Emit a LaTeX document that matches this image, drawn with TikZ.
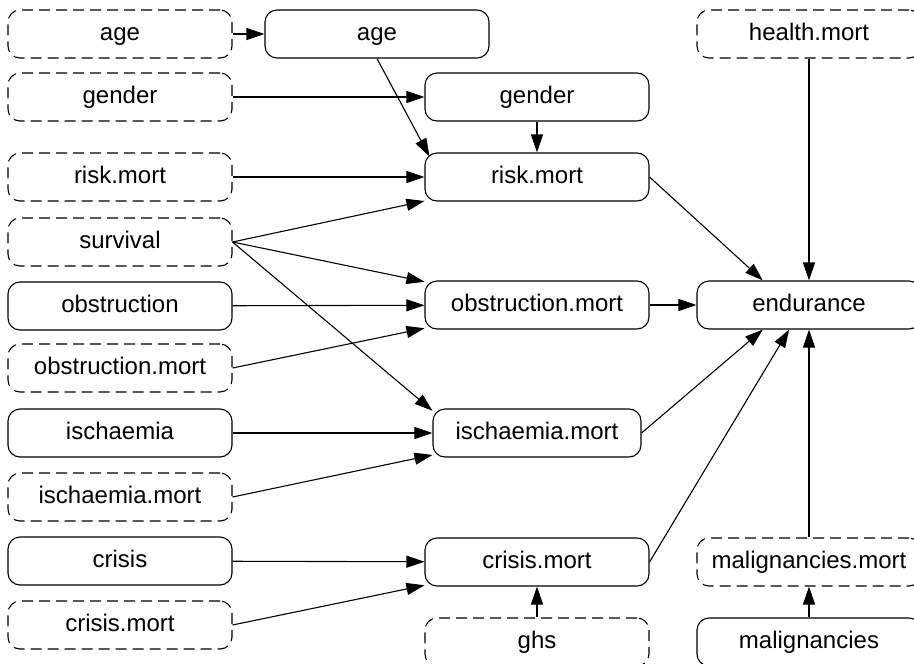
\documentclass[tikz,border=0pt]{standalone}
\usepackage{fontspec}
\setmainfont{Liberation Sans}
\usetikzlibrary{arrows.meta,positioning,calc}
\tikzset{
  var/.style={draw,rounded corners=12pt,line width=1.1pt,minimum width=224pt,
    minimum height=48pt,inner sep=2pt,text height=17pt,text depth=5pt,
    font=\fontsize{24}{28}\selectfont},
  ext/.style={var,dash pattern=on 11pt off 6pt},
  dep/.style={-{Triangle[length=18pt,width=12pt]},line width=1.1pt},
}
\begin{document}
\begin{tikzpicture}[x=1pt,y=-1pt]
  \useasboundingbox (0,0) rectangle (914,664);
  \node[ext] (agel) at (120,34) {age};
  \node[ext] (genl) at (120,97) {gender};
  \node[ext] (riskl) at (120,177) {risk.mort};
  \node[ext] (surv) at (120,242) {survival};
  \node[var] (obsl) at (120,306) {obstruction};
  \node[ext] (obsml) at (120,368) {obstruction.mort};
  \node[var] (isl) at (120,433) {ischaemia};
  \node[ext] (isml) at (120,497) {ischaemia.mort};
  \node[var] (crl) at (120,561) {crisis};
  \node[ext] (crml) at (120,625) {crisis.mort};

  \node[var] (agem) at (377,34) {age};
  \node[var] (genm) at (537,97) {gender};
  \node[var] (riskm) at (537,177) {risk.mort};
  \node[var] (obsm) at (537,305) {obstruction.mort};
  \node[var,minimum width=208pt] (ism) at (537,433) {ischaemia.mort};
  \node[var] (crm) at (537,562) {crisis.mort};
  \node[ext] (ghs) at (537,642) {ghs};

  \node[ext] (health) at (809,34) {health.mort};
  \node[var] (endu) at (809,305) {endurance};
  \node[ext] (malm) at (809,562) {malignancies.mort};
  \node[var] (mal) at (809,642) {malignancies};

  \draw[dep] (agel) -- (agem);
  \draw[dep] (genl) -- (genm);
  \draw[dep] (agem.south) -- ([xshift=5pt,yshift=-4pt]riskm.north west);
  \draw[dep] (genm) -- (riskm);
  \draw[dep] (riskl) -- (riskm);
  \draw[dep] (surv.east) -- (riskm);
  \draw[dep] (surv.east) -- (obsm);
  \draw[dep] (surv.east) -- (ism.168);
  \draw[dep] (obsl) -- (obsm);
  \draw[dep] (obsml.east) -- (obsm);
  \draw[dep] (isl) -- (ism);
  \draw[dep] (isml.east) -- (ism);
  \draw[dep] (crl) -- (crm);
  \draw[dep] (crml.east) -- (crm);
  \draw[dep] (ghs) -- (crm);
  \draw[dep] (riskm.east) -- (endu.152);
  \draw[dep] (obsm) -- (endu);
  \draw[dep] (ism.east) -- (endu.208);
  \draw[dep] (crm.east) -- (endu.231);
  \draw[dep] (health) -- (endu);
  \draw[dep] (malm) -- (endu);
  \draw[dep] (mal) -- (malm);
\end{tikzpicture}
\end{document}
